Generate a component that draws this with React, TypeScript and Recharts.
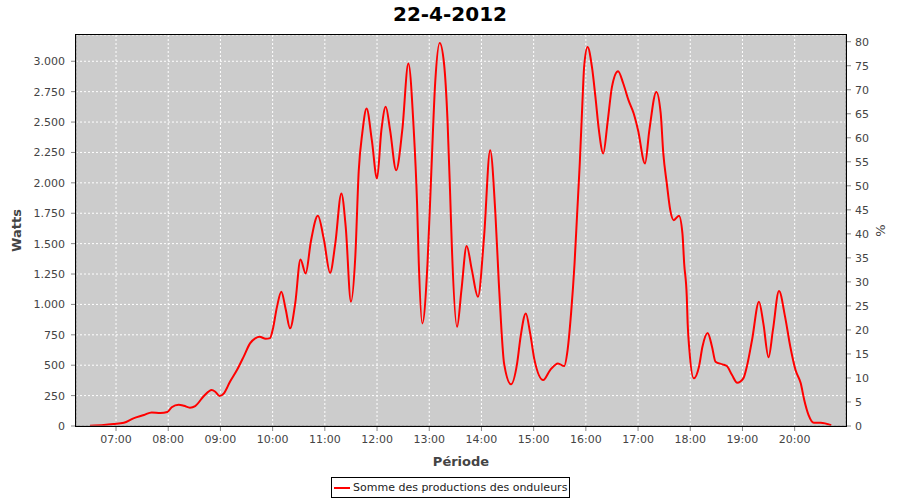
import { LineChart, Line, XAxis, YAxis, CartesianGrid } from 'recharts';

// readings of the inverters, time of day -> watts
const TIMES = [
  '06:30', '06:46', '06:57', '07:09', '07:20', '07:32', '07:41', '07:51', '07:59', '08:04',
  '08:12', '08:18', '08:25', '08:31', '08:41', '08:50', '08:54', '08:59', '09:04', '09:11',
  '09:19', '09:27', '09:34', '09:40', '09:45', '09:52', '09:57', '10:00', '10:05', '10:10',
  '10:15', '10:20', '10:26', '10:32', '10:38', '10:44', '10:52', '10:59', '11:06', '11:12',
  '11:19', '11:24', '11:30', '11:35', '11:39', '11:43', '11:48', '11:54', '12:00', '12:05',
  '12:10', '12:15', '12:22', '12:29', '12:36', '12:42', '12:46', '12:48', '12:52', '12:58',
  '13:02', '13:07', '13:12', '13:17', '13:21', '13:24', '13:26', '13:32', '13:37', '13:43',
  '13:49', '13:56', '14:03', '14:10', '14:16', '14:20', '14:23', '14:26', '14:34', '14:41',
  '14:45', '14:51', '14:56', '15:01', '15:11', '15:19', '15:28', '15:35', '15:39', '15:43',
  '15:47', '15:50', '15:53', '15:56', '15:58', '16:02', '16:07', '16:11', '16:15', '16:20',
  '16:25', '16:30', '16:37', '16:43', '16:49', '16:55', '17:00', '17:08', '17:13', '17:21',
  '17:26', '17:29', '17:33', '17:37', '17:41', '17:47', '17:51', '17:53', '17:56', '17:57',
  '17:59', '18:04', '18:10', '18:14', '18:20', '18:25', '18:29', '18:37', '18:42', '18:48',
  '18:54', '19:01', '19:05', '19:11', '19:19', '19:24', '19:30', '19:35', '19:42', '19:49',
  '19:55', '20:01', '20:07', '20:11', '20:16', '20:22', '20:30', '20:42',
];

const WATTS = [
  2, 8, 16, 27, 63, 90, 112, 107, 115, 154,
  175, 167, 151, 164, 247, 296, 282, 247, 269, 364,
  460, 575, 680, 721, 734, 718, 723, 789, 980, 1104,
  960, 803, 1011, 1370, 1255, 1520, 1729, 1530, 1260, 1500,
  1913, 1638, 1022, 1392, 2104, 2406, 2611, 2351, 2036, 2433,
  2625, 2433, 2104, 2433, 2981, 2460, 1831, 1337, 844, 1337,
  2022, 2844, 3151, 2981, 2515, 1913, 1474, 816, 1118, 1480,
  1282, 1063, 1556, 2269, 1750, 1173, 789, 515, 343, 515,
  734, 926, 762, 542, 378, 460, 515, 493, 625, 926,
  1337, 1748, 2159, 2653, 2953, 3118, 2953, 2707, 2433, 2242,
  2500, 2789, 2918, 2817, 2680, 2570, 2433, 2159, 2433, 2748,
  2573, 2244, 1997, 1776, 1693, 1729, 1584, 1337, 1063, 844,
  625, 392, 488, 652, 765, 652, 529, 507, 493, 419,
  356, 392, 488, 707, 1022, 844, 565, 789, 1110, 898,
  652, 460, 351, 214, 90, 27, 27, 6,
];

const HOUR_TICKS = ['07:00', '08:00', '09:00', '10:00', '11:00', '12:00', '13:00',
  '14:00', '15:00', '16:00', '17:00', '18:00', '19:00', '20:00'];
const WATT_TICKS = [0, 250, 500, 750, 1000, 1250, 1500, 1750, 2000, 2250, 2500, 2750, 3000];
const PCT_TICKS = [0, 5, 10, 15, 20, 25, 30, 35, 40, 45, 50, 55, 60, 65, 70, 75, 80];

const SERIES_NAME = 'Somme des productions des onduleurs';
const FONT = '"DejaVu Sans", sans-serif';
const TICK = { fontSize: 11, fill: '#444444', fontFamily: FONT };
const AXIS_TITLE = { fontSize: 13, fontWeight: 'bold', fill: '#444444', fontFamily: FONT };

function toMinutes(hhmm: string) {
  const [h, m] = hhmm.split(':').map(Number);
  return h * 60 + m;
}

function formatMinutes(v: number) {
  const h = Math.floor(v / 60);
  const m = Math.round(v % 60);
  return `${String(h).padStart(2, '0')}:${String(m).padStart(2, '0')}`;
}

function formatWatts(v: number) {
  return v.toLocaleString('de-DE');
}

const data = TIMES.map((t, i) => ({ t: toMinutes(t), watts: WATTS[i] }));

const PLOT = { left: 76, top: 35, right: 846, bottom: 426 };

export default function App() {
  return (
    <div style={{ position: 'absolute', left: 0, top: 0, width: 900, height: 500, background: '#fff', fontFamily: FONT }}>
      <div
        style={{
          position: 'absolute', left: 0, top: 2, width: 900, textAlign: 'center',
          fontSize: 20, fontWeight: 'bold', color: '#000',
        }}
      >
        22-4-2012
      </div>

      <LineChart width={900} height={500} data={data} margin={{ top: PLOT.top, right: 0, bottom: 0, left: 0 }}>
        <CartesianGrid
          yAxisId="left"
          stroke="#ffffff"
          strokeDasharray="2 2"
          fill="#cccccc"
          fillOpacity={1}
        />
        <XAxis
          dataKey="t"
          type="number"
          domain={[374, 1259]}
          ticks={HOUR_TICKS.map(toMinutes)}
          tickFormatter={formatMinutes}
          tick={TICK}
          tickSize={5}
          tickMargin={4}
          height={500 - PLOT.bottom}
          stroke="#888888"
          allowDataOverflow
          label={{ value: 'Période', position: 'insideBottom', offset: 34, style: AXIS_TITLE }}
        />
        <YAxis
          yAxisId="left"
          domain={[0, 3216]}
          ticks={WATT_TICKS}
          tickFormatter={formatWatts}
          tick={TICK}
          tickSize={5}
          tickMargin={6}
          width={PLOT.left}
          stroke="#888888"
          allowDataOverflow
          label={{
            value: 'Watts', angle: -90, position: 'insideLeft', offset: 16,
            style: { ...AXIS_TITLE, textAnchor: 'middle' },
          }}
        />
        <YAxis
          yAxisId="right"
          orientation="right"
          domain={[0, 81.4]}
          ticks={PCT_TICKS}
          tick={TICK}
          tickSize={5}
          tickMargin={4}
          width={900 - PLOT.right}
          stroke="#888888"
          allowDataOverflow
          label={{
            value: '%', angle: -90, position: 'insideRight', offset: 20,
            style: { textAnchor: 'middle', fontSize: 13, fill: '#444444', fontFamily: FONT },
          }}
        />
        <Line
          yAxisId="left"
          type="monotone"
          dataKey="watts"
          name={SERIES_NAME}
          stroke="#ff0000"
          strokeWidth={2}
          dot={false}
          isAnimationActive={false}
        />
      </LineChart>

      {/* plot outline */}
      <div
        style={{
          position: 'absolute', left: PLOT.left - 1, top: PLOT.top - 1,
          width: PLOT.right - PLOT.left, height: PLOT.bottom - PLOT.top,
          border: '1px solid #000', pointerEvents: 'none',
        }}
      />

      {/* legend */}
      <div
        style={{
          position: 'absolute', left: 331, top: 477, height: 19, padding: '0 2px 0 2px',
          border: '1px solid #000', display: 'flex', alignItems: 'center', gap: 3,
          fontSize: 11, color: '#222',
        }}
      >
        <span style={{ display: 'inline-block', width: 16, height: 2, background: '#ff0000' }} />
        <span>{SERIES_NAME}</span>
      </div>
    </div>
  );
}
